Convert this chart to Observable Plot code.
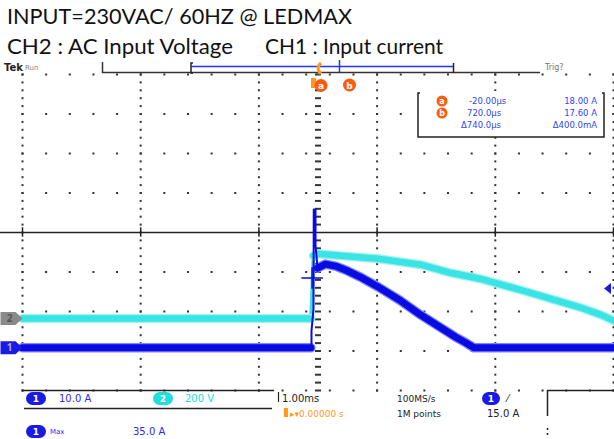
<!DOCTYPE html>
<html><head><meta charset="utf-8">
<script src="https://cdn.jsdelivr.net/npm/d3@7"></script>
<script src="https://cdn.jsdelivr.net/npm/@observablehq/plot@0.6"></script>
<style>
html,body{margin:0;padding:0;background:#fff;}
#page{position:relative;width:614px;height:439px;overflow:hidden;background:#fff;}
#titles{position:absolute;left:0;top:0;overflow:visible;}
#chart{position:absolute;left:0;top:60px;}
#chrome{position:absolute;left:0;top:0;pointer-events:none;}
</style></head>
<body><div id="page">
<svg id="titles" width="614" height="64" font-family="Lato,'Open Sans',sans-serif" font-size="22" fill="#111">
  <text x="7" y="24" textLength="345" lengthAdjust="spacingAndGlyphs">INPUT=230VAC/ 60HZ @ LEDMAX</text>
  <text x="7" y="54" textLength="226" lengthAdjust="spacingAndGlyphs">CH2 : AC Input Voltage</text>
  <text x="265" y="54" textLength="178" lengthAdjust="spacingAndGlyphs">CH1 : Input current</text>
</svg>
<div id="chart"></div>
<svg id="chrome" width="614" height="439" font-family="'DejaVu Sans',sans-serif">
  <!-- top status / record view -->
  <text x="4" y="71" font-size="10" font-weight="bold" fill="#222">Tek</text>
  <text x="25" y="70" font-size="7" fill="#888">Run</text>
  <line x1="102" y1="72.5" x2="540" y2="72.5" stroke="#333" stroke-width="1.5"/>
  <line x1="102.5" y1="62" x2="102.5" y2="73" stroke="#333" stroke-width="1.5"/>
  <path d="M193,63 h-2 v10 h2" fill="none" stroke="#222" stroke-width="1.5"/>
  <line x1="453.5" y1="63" x2="453.5" y2="73" stroke="#222" stroke-width="1.5"/>
  <line x1="191" y1="66.5" x2="453" y2="66.5" stroke="#2233ff" stroke-width="1.5"/>
  <line x1="339.5" y1="60" x2="339.5" y2="72" stroke="#2233ff" stroke-width="1.5"/>
  <path d="M321,63 q-6,5 0,11" fill="none" stroke="#ff9a1a" stroke-width="3"/>
  <rect x="311" y="78" width="5" height="10" fill="#ff9a1a"/>
  <circle cx="321" cy="85.5" r="6.5" fill="#ff5a10"/>
  <text x="321" y="89" font-size="9" font-weight="bold" fill="#fff" text-anchor="middle">a</text>
  <circle cx="349.5" cy="85" r="6.5" fill="#ff5a10"/>
  <text x="349.5" y="88.5" font-size="9" font-weight="bold" fill="#fff" text-anchor="middle">b</text>
  <text x="545" y="70" font-size="8" fill="#777">Trig?</text>

  <!-- cursor readout box -->
  <rect x="418" y="91" width="186" height="46" fill="#fff"/>
  <path d="M420,93 h-2 v44 h186 v-44 h-2" fill="none" stroke="#222" stroke-width="1.5"/>
  <circle cx="442" cy="101" r="5.5" fill="#ff5a10"/>
  <text x="442" y="104" font-size="8" font-weight="bold" fill="#fff" text-anchor="middle">a</text>
  <circle cx="442" cy="113" r="5.5" fill="#ff5a10"/>
  <text x="442" y="116" font-size="8" font-weight="bold" fill="#fff" text-anchor="middle">b</text>
  <g font-size="8.5" fill="#3344ee">
    <text x="469" y="104">-20.00µs</text>
    <text x="597" y="104" text-anchor="end">18.00 A</text>
    <text x="467" y="116">720.0µs</text>
    <text x="597" y="116" text-anchor="end">17.60 A</text>
    <text x="461" y="128">Δ740.0µs</text>
    <text x="597" y="128" text-anchor="end">Δ400.0mA</text>
  </g>

  <!-- bottom readouts -->
  <line x1="22" y1="390.5" x2="274" y2="390.5" stroke="#222" stroke-width="1.5"/>
  <line x1="24" y1="408.5" x2="272" y2="408.5" stroke="#222" stroke-width="1.5"/>
  <rect x="26" y="392" width="20" height="13" rx="6.5" fill="#1a1ae6"/>
  <text x="36" y="402" font-size="9" font-weight="bold" fill="#fff" text-anchor="middle">1</text>
  <text x="59" y="402" font-size="10" fill="#2a2aee">10.0 A</text>
  <rect x="153" y="392" width="20" height="13" rx="6.5" fill="#22dddd"/>
  <text x="163" y="402" font-size="9" font-weight="bold" fill="#fff" text-anchor="middle">2</text>
  <text x="185" y="402" font-size="10" fill="#22d8d8">200 V</text>

  <line x1="278.5" y1="392" x2="278.5" y2="402" stroke="#222" stroke-width="1.2"/>
  <text x="282" y="402" font-size="10" fill="#222">1.00ms</text>
  <text x="397" y="402" font-size="9" fill="#222">100MS/s</text>
  <rect x="482" y="392" width="18" height="13" rx="6.5" fill="#1a1ae6"/>
  <text x="491" y="402" font-size="9" font-weight="bold" fill="#fff" text-anchor="middle">1</text>
  <text x="507" y="402" font-size="10" fill="#222">⁄</text>
  <rect x="284" y="408" width="4" height="9" fill="#ff9a1a"/>
  <text x="290" y="417" font-size="9" fill="#ff9a1a">▸▾0.00000 s</text>
  <text x="397" y="417" font-size="9" fill="#222">1M points</text>
  <text x="487" y="417" font-size="10" fill="#222">15.0 A</text>
  <line x1="547.5" y1="390" x2="547.5" y2="416" stroke="#222" stroke-width="1.5"/>
  <line x1="547.5" y1="428" x2="547.5" y2="437" stroke="#222" stroke-width="1.5" stroke-dasharray="2,3"/>
  <line x1="547" y1="390.5" x2="614" y2="390.5" stroke="#222" stroke-width="1.5"/>

  <rect x="26" y="425" width="20" height="13" rx="6.5" fill="#1a1ae6"/>
  <text x="36" y="435" font-size="9" font-weight="bold" fill="#fff" text-anchor="middle">1</text>
  <text x="50" y="434" font-size="7" fill="#2a2aee">Max</text>
  <text x="133" y="435" font-size="10" fill="#2a2aee">35.0 A</text>
</svg>
</div>
<script>
// ---- data ----
// Channel settings
const ch1Scale = 10;     // A/div   (CH1: input current)
const ch2Scale = 200;    // V/div   (CH2: AC input voltage)
const ch1Offset = -2.92; // div (ground marker position)
const ch2Offset = -2.18; // div
const trigLevel = 15.0;  // A on CH1
const timePerDiv = 1.0;  // ms/div

// CH2 AC input voltage (V) vs time (ms)
const ch2Time  = [-2.5, -0.06, -0.05, -0.04, 0.00, 0.19, 0.51, 0.87, 1.12, 1.37, 1.52, 1.71, 1.88, 2.05, 2.22, 2.39, 2.52];
const ch2Volts = [0, 0, 141, 318, 328, 318, 303, 273, 232, 202, 177, 146, 116, 86, 56, 20, -15];
const ch2EdgeTime = [-0.05]; // sample on the fast rising edge (drawn thin)

// CH1 input current (A) vs time (ms); NaN = trace jumps (drawn by the thin spike)
const ch1Time = [-2.5, -0.06, -0.03, -0.004, 0.063, 0.148, 0.233, 0.36, 0.51, 0.70, 0.87, 1.04, 1.16, 1.25, 1.32, 2.52];
const ch1Amps = [0, 0, NaN, 20.2, 21.2, 20.7, 19.7, 17.9, 15.4, 11.9, 8.3, 5.1, 2.8, 1.3, 0, 0];

// Inrush spike on CH1 (thin trace)
const spikeTime = [-0.06, -0.055, -0.055, -0.038, -0.036, -0.021, -0.021, -0.004];
const spikeAmps = [0, 0, 4.3, 9.8, 35.0, 35.0, 26.0, 20.2];

// waveform cursor on CH1
const cursorTime = [-0.05];
const cursorAmps = [17.7];

// ---- build ----
const blue = "#0a0ae2", blueHalo = "#7c86ff";
const cyan = "#3ae4e4", cyanHalo = "#9ff2f2";
const W = 614, H = 379;
const pxPerDiv = 118.2;
const xDomain = [-317.5 / pxPerDiv, (W - 317.5) / pxPerDiv];

const ch2 = ch2Time.map((t, i) => ({t: t / timePerDiv, y: ch2Offset + ch2Volts[i] / ch2Scale, edge: ch2EdgeTime.includes(t)}));
const ch1 = ch1Time.map((t, i) => ({t: t / timePerDiv, y: ch1Offset + ch1Amps[i] / ch1Scale}));
const spike = spikeTime.map((t, i) => ({t: t / timePerDiv, y: ch1Offset + spikeAmps[i] / ch1Scale}));
const cursor = cursorTime.map((t, i) => ({t, y: ch1Offset + cursorAmps[i] / ch1Scale}));
const ch2Thick = d => d.edge ? NaN : d.y;

const cols = [-2.5, -1.5, -0.5, 0.5, 1.5, 2.5];
const rows = [-4, -3, -2, -1, 1, 2, 3, 4];
const minorX = d3.range(0, 26).map(i => -2.5 + i * 0.2);
const minorY = d3.range(0, 41).map(i => -4 + i * 0.2);
const rowDots = rows.flatMap(y => minorX.map(x => ({x, y})));
const colDots = cols.flatMap(x => minorY.map(y => ({x, y})));
const axisDashes = minorY.filter(y => Math.abs(y) > 0.01).map(y => ({x: 0, y}));

const dash = {draw(ctx) { ctx.rect(-3, -1, 6, 2); }};
const sq = {draw(ctx) { ctx.rect(-1, -1, 2, 2); }};
const tag = {draw(ctx) { ctx.moveTo(-11, -6.5); ctx.lineTo(4, -6.5); ctx.lineTo(11, 0); ctx.lineTo(4, 6.5); ctx.lineTo(-11, 6.5); ctx.closePath(); }};
const tri = {draw(ctx) { ctx.moveTo(3.5, -5.5); ctx.lineTo(-3.5, 0); ctx.lineTo(3.5, 5.5); ctx.closePath(); }};

const chart = Plot.plot({
  width: W, height: H,
  marginLeft: 0, marginRight: 0, marginTop: 14, marginBottom: 49,
  x: {domain: xDomain, axis: null},
  y: {domain: [-4, 4], axis: null},
  style: {background: "transparent", overflow: "visible"},
  marks: [
    Plot.dot(rowDots, {x: "x", y: "y", symbol: sq, fill: "#333", stroke: null}),
    Plot.dot(colDots, {x: "x", y: "y", symbol: sq, fill: "#333", stroke: null}),
    Plot.dot(axisDashes, {x: "x", y: "y", symbol: dash, fill: "#333", stroke: null}),
    Plot.ruleY([0], {stroke: "#222", strokeWidth: 1.6}),
    Plot.ruleX(cols, {y1: -0.12, y2: 0.12, stroke: "#222", strokeWidth: 1.5}),
    Plot.line(ch2, {x: "t", y: "y", stroke: cyan, strokeWidth: 3.5}),
    Plot.line(ch2, {x: "t", y: ch2Thick, stroke: cyanHalo, strokeWidth: 9, strokeLinejoin: "round"}),
    Plot.line(ch2, {x: "t", y: ch2Thick, stroke: cyan, strokeWidth: 6.5, strokeLinejoin: "round"}),
    Plot.line(ch1, {x: "t", y: "y", stroke: blueHalo, strokeWidth: 9.5, strokeLinejoin: "round"}),
    Plot.line(ch1, {x: "t", y: "y", stroke: blue, strokeWidth: 7, strokeLinejoin: "round"}),
    Plot.line(spike, {x: "t", y: "y", stroke: blue, strokeWidth: 2}),
    Plot.dot(cursor, {x: "t", y: "y", symbol: "plus", r: 7, stroke: blue, strokeWidth: 1.5}),
    Plot.dot([ch2Offset], {x: () => xDomain[0], y: d => d, dx: 11, symbol: tag, fill: "#8a8a8a", stroke: null}),
    Plot.text([ch2Offset], {x: () => xDomain[0], y: d => d, dx: 9, text: () => "2", fill: "#555", fontSize: 10, fontWeight: "bold"}),
    Plot.dot([ch1Offset], {x: () => xDomain[0], y: d => d, dx: 11, symbol: tag, fill: "#1a1ae6", stroke: null}),
    Plot.text([ch1Offset], {x: () => xDomain[0], y: d => d, dx: 9, text: () => "1", fill: "#aab", fontSize: 10, fontWeight: "bold"}),
    Plot.dot([ch1Offset + trigLevel / ch1Scale], {x: () => xDomain[1], y: d => d, dx: -7, symbol: tri, fill: "#1a1ae6", stroke: null})
  ]
});
document.getElementById("chart").append(chart);
</script>
</body></html>
